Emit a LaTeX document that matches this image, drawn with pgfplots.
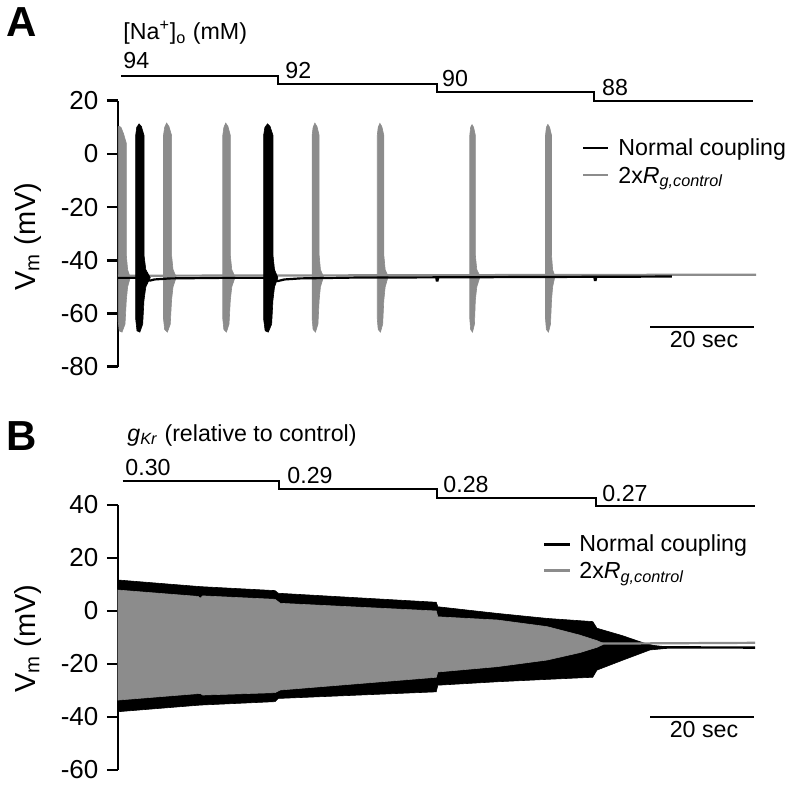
\documentclass[border=0pt]{standalone}
\usepackage{fontspec}
\setmainfont{Liberation Sans}
\usepackage{pgfplots}
\pgfplotsset{compat=1.18}
\definecolor{tracegray}{RGB}{140,140,140}
\newcommand{\txt}{\fontsize{11.6}{13}\selectfont}
\begin{document}
\begin{tikzpicture}
\useasboundingbox (0,0) rectangle (396.5pt,-394.5pt);
\pgfplotsset{
  panel/.style={
    scale only axis, width=318.5pt, anchor=south west,
    xmin=0, xmax=122.5,
    axis x line=none, axis y line=left,
    axis line style={-, line width=1.3pt, black},
    tick align=outside, major tick length=5.5pt,
    tick style={line width=1.3pt, black},
    yticklabel style={font=\fontsize{13}{14}\selectfont, xshift=-0.8pt},
    clip=false,
  },
  gb/.style={fill=tracegray, draw=tracegray, line width=0.3pt},
  bb/.style={fill=black, draw=black, line width=0.3pt},
}
% ---------------- Panel A ----------------
\begin{axis}[panel, at={(59pt,-183.35pt)}, height=133pt, ymin=-80, ymax=20,
  ytick={-80,-60,-40,-20,0,20}, yticklabels={-80,-60,-40,-20,0,20}]
% protocol steps
\addplot[black, line width=1pt] coordinates {(0.58,29.3) (30.77,29.3) (30.77,26.2) (61.29,26.2) (61.29,23.1) (91.54,23.1) (91.54,19.9) (122.1,19.9)};
% gray baseline
\addplot[tracegray, line width=1.1pt] coordinates {(0,-45.8) (30,-45.7) (60,-45.6) (90,-45.5) (122.7,-45.4)};
% gray bursts
\addplot[gb] coordinates {(0.05,-62) (0.05,10.2) (0.3,10.4) (0.62,9.8) (1.08,7.5) (1.6,4) (1.6,-38) (1.85,-43.5) (2.35,-46.5) (1.85,-50) (1.6,-55) (1.35,-64) (0.77,-67) (0.23,-66.5) (0.05,-63)} -- cycle;
\addplot[gb] coordinates {(8.75,-62) (8.75,7) (8.97,10) (9.35,11.6) (9.80,10.3) (10.30,7) (10.30,-38) (10.58,-43.5) (11.20,-46.3) (10.58,-50) (10.30,-55) (10.05,-64) (9.50,-67) (8.97,-66)} -- cycle;
\addplot[gb] coordinates {(20.15,-62) (20.15,7) (20.36,10) (20.72,11.6) (21.15,10.3) (21.60,7) (21.60,-38) (21.88,-43.5) (22.52,-46.3) (21.88,-50) (21.60,-55) (21.35,-64) (20.85,-67) (20.36,-66)} -- cycle;
\addplot[gb] coordinates {(37.33,-62) (37.33,7) (37.52,10) (37.86,11.6) (38.26,10.3) (38.68,7) (38.68,-38) (38.93,-43.5) (39.52,-46.2) (38.93,-50) (38.68,-55) (38.45,-64) (37.98,-67) (37.52,-66)} -- cycle;
\addplot[gb] coordinates {(49.86,-62) (49.86,7) (50.04,10) (50.36,11.5) (50.73,10.3) (51.12,7) (51.12,-38) (51.38,-43.5) (51.95,-46.1) (51.38,-50) (51.12,-55) (50.90,-64) (50.47,-67) (50.04,-66)} -- cycle;
\addplot[gb] coordinates {(67.65,-62) (67.65,7) (67.81,10) (68.08,11.0) (68.39,10) (68.72,7) (68.72,-38) (69.00,-43.5) (69.64,-46.0) (69.00,-50) (68.72,-55) (68.55,-64) (68.17,-67) (67.81,-66)} -- cycle;
\addplot[gb] coordinates {(82.21,-62) (82.21,7) (82.38,10) (82.67,11.1) (83.00,10) (83.37,7) (83.37,-38) (83.58,-43.5) (84.02,-46.0) (83.58,-50) (83.37,-55) (83.17,-64) (82.78,-67) (82.38,-66)} -- cycle;
% black baseline
\addplot[black, line width=1.1pt] coordinates {(0,-46.6) (3.40,-46.6) (6.2,-47.6) (7,-47.2) (10,-46.8) (20,-46.6) (28.0,-46.6) (30.75,-47.8) (32,-47.2) (35,-46.8) (45,-46.5) (61.2,-46.4) (61.3,-47.6) (61.45,-47.6) (61.6,-46.4) (91.6,-46.2) (91.7,-47.4) (91.85,-47.4) (92.0,-46.2) (106.5,-46.1)};
% black bursts
\addplot[bb] coordinates {(3.40,-62) (3.40,7) (3.60,10) (4.05,11.3) (4.50,10.3) (5.00,7) (5.00,-38) (5.35,-43.5) (6.20,-46.5) (5.35,-50) (5.00,-55) (4.75,-64) (4.20,-67) (3.65,-66.5)} -- cycle;
\addplot[bb] coordinates {(28.00,-62) (28.00,7) (28.25,10) (28.75,11.3) (29.25,10.3) (29.80,7) (29.80,-38) (30.10,-43.5) (30.75,-46.6) (30.10,-50) (29.80,-55) (29.55,-64) (28.90,-67) (28.30,-66.5)} -- cycle;
\end{axis}
% ---------------- Panel B ----------------
\begin{axis}[panel, at={(59pt,-385pt)}, height=132.5pt, ymin=-60, ymax=40,
  ytick={-60,-40,-20,0,20,40}, yticklabels={-60,-40,-20,0,20,40}]
\addplot[black, line width=1pt] coordinates {(0.9,49.2) (31.0,49.2) (31.0,46.0) (61.4,46.0) (61.4,42.75) (91.9,42.75) (91.9,39.6) (122.5,39.6)};
% Normal coupling envelope
\addplot[bb] coordinates {(0,11.7) (15.8,9.2) (30.2,7.7) (30.8,6.7) (61.2,3.3) (61.5,1.6) (72.9,-0.9) (82.5,-2.8) (91.3,-4.0) (92.1,-6.5) (97.0,-9.3) (101.0,-12.0) (103.0,-13.0) (105.5,-13.5)
 (105.5,-14.1) (102.3,-14.7) (97.0,-18.6) (92.1,-22.3) (91.3,-25.0) (82.5,-25.8) (72.9,-26.7) (61.5,-28.0) (61.2,-30.5) (30.8,-33.0) (30.2,-34.2) (15.8,-35.5) (0,-38.0)} -- cycle;
\addplot[black, line width=1.2pt] coordinates {(101,-13.7) (122.5,-13.8)};
% 2x Rg envelope
\addplot[gb] coordinates {(0,7.9) (15.4,5.5) (15.8,4.8) (16.3,5.7) (30.2,4.4) (31.2,2.9) (61.2,0.0) (61.5,-2.2) (72.9,-3.4) (82.5,-5.9) (88.8,-9.1) (92.1,-11.2) (93.3,-12.2)
 (93.3,-12.6) (92.1,-13.7) (88.8,-15.7) (82.5,-18.5) (72.9,-21.0) (61.5,-23.0) (61.2,-25.0) (31.2,-29.8) (30.2,-30.8) (16.3,-31.7) (15.8,-31.1) (0,-33.6)} -- cycle;
\addplot[tracegray, line width=1.1pt] coordinates {(93.0,-12.3) (122.5,-12.0)};
\end{axis}
% ---------------- annotations (pixel frame) ----------------
\begin{scope}[x=0.5pt, y=-0.5pt]
\node[anchor=base west, inner sep=0] at (6,36.7) {\fontsize{21}{24}\selectfont\bfseries A};
\node[anchor=base west, inner sep=0] at (6,450) {\fontsize{21}{24}\selectfont\bfseries B};
\node[anchor=base west, inner sep=0] at (123,39.5) {\txt [Na\textsuperscript{+}]\textsubscript{o} (mM)};
\node[anchor=base west, inner sep=0] at (123,68.3) {\txt 94};
\node[anchor=base west, inner sep=0] at (285,78.3) {\txt 92};
\node[anchor=base west, inner sep=0] at (441.7,86) {\txt 90};
\node[anchor=base west, inner sep=0] at (601.7,95) {\txt 88};
\node[anchor=base west, inner sep=0] at (127,441) {\txt \textit{g}\textsubscript{\textit{Kr}} (relative to control)};
\node[anchor=base west, inner sep=0] at (125,475) {\txt 0.30};
\node[anchor=base west, inner sep=0] at (287,483) {\txt 0.29};
\node[anchor=base west, inner sep=0] at (443,492) {\txt 0.28};
\node[anchor=base west, inner sep=0] at (602,501) {\txt 0.27};
% y labels
\node[rotate=90, anchor=base, inner sep=0] at (35,236.5) {\fontsize{14.5}{16}\selectfont V\textsubscript{m} (mV)};
\node[rotate=90, anchor=base, inner sep=0] at (35,638.5) {\fontsize{14.5}{16}\selectfont V\textsubscript{m} (mV)};
% legend A
\draw[black, line width=1.35pt] (583,148) -- (608,148);
\draw[tracegray, line width=1.35pt] (583,175) -- (608,175);
\node[anchor=base west, inner sep=0] at (618,155.5) {\txt Normal coupling};
\node[anchor=base west, inner sep=0] at (618,183) {\txt 2x\textit{R}\textsubscript{\textit{g,control}}};
% legend B
\draw[black, line width=1.35pt] (544,544.3) -- (570,544.3);
\draw[tracegray, line width=1.35pt] (544,570.7) -- (570,570.7);
\node[anchor=base west, inner sep=0] at (579,551.7) {\txt Normal coupling};
\node[anchor=base west, inner sep=0] at (579,578.5) {\txt 2x\textit{R}\textsubscript{\textit{g,control}}};
% scale bars
\draw[black, line width=1.15pt] (650,326.7) -- (754,326.7);
\node[anchor=base, inner sep=0] at (704,347) {\txt 20 sec};
\draw[black, line width=1.15pt] (650,716.7) -- (754,716.7);
\node[anchor=base, inner sep=0] at (704,737) {\txt 20 sec};
\end{scope}
\end{tikzpicture}
\end{document}
